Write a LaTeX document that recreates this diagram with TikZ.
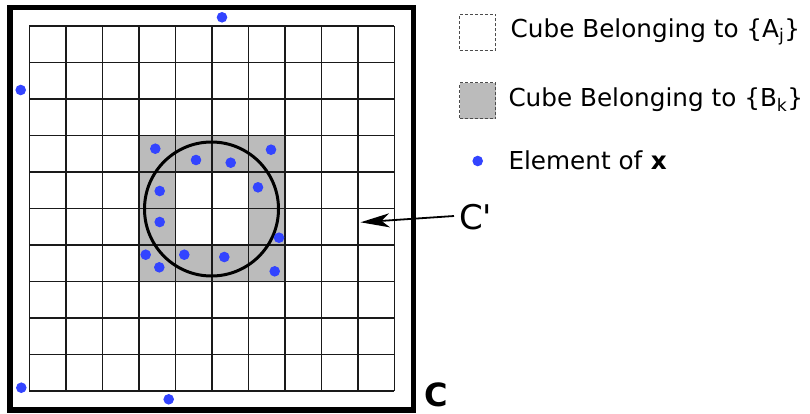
\documentclass[tikz,border=0pt]{standalone}
\usepackage{fontspec}
\setmainfont{DejaVu Sans}[Ligatures=TeXOff]
\usepackage{xcolor}
\usetikzlibrary{arrows.meta}
\definecolor{DotBlue}{HTML}{3344FF}
\definecolor{CubeGray}{HTML}{BBBBBB}
\definecolor{GridLine}{HTML}{1A1A1A}
\begin{document}
\begin{tikzpicture}[x=1pt, y=-1pt]
            % canvas in pixels, y runs down
            \useasboundingbox (0,0) rectangle (810,413);
            % cubes of {B_k}: ring of gray cells round the circle
            \fill[CubeGray, even odd rule] (138.8,136) rectangle (284.8,282) (175.3,172.5) rectangle (248.3,245.5);
            % the grid of cubes
            \foreach \i in {0,...,10} {
                \draw[GridLine, line width=1.6pt] (29.3+36.5*\i,26) -- (29.3+36.5*\i,391);
                \draw[GridLine, line width=1.6pt] (29.3,26+36.5*\i) -- (394.3,26+36.5*\i);
            }
            % the set C'
            \draw[black, line width=3pt] (211.5,209) circle (67);
            % elements of x
            \foreach \p in {(222,17.3),(20.7,90),(21.3,387.7),(168.7,399.3),(155.3,148.7),(196,160),(230.7,162.7),(271,149.7),(159.7,191),(258,187.3),(159.7,222),(279,237.7),(145.7,254.7),(184.3,254.7),(224.3,257),(159.3,267.3),(274.7,271.3)}
                \fill[DotBlue] \p circle (5.3);
            % the set C
            \draw[black, line width=5.5pt] (10,7.5) rectangle (413.5,410);
            \node[font=\bfseries\fontsize{32}{38}\selectfont, anchor=base west, inner sep=0pt] (C) at (424,406) {C};
            \node[font=\fontsize{34}{40}\selectfont, anchor=west, inner sep=0pt] (Cp) at (459,217) {C'};
            \coordinate (Ctip) at (360.5,222.3);
            \draw[-{Stealth[length=29pt, width=14pt, inset=8pt]}, black, line width=1.8pt] (Cp.west) ++(-5,-1) -- (Ctip);
            % legend
            \node[draw=black!70, densely dashed, line width=0.6pt, fill=white, minimum width=36pt, minimum height=36pt, inner sep=0pt] (LA) at (477.5,32.3) {};
            \node[draw=black!70, densely dashed, line width=0.6pt, fill=CubeGray, minimum width=36pt, minimum height=36pt, inner sep=0pt] (LB) at (477.5,100.7) {};
            \fill[DotBlue] (477.7,161) circle (5.3);
            \node[font=\fontsize{24.7}{28}\selectfont, anchor=west, inner sep=0pt] (TA) at (510.5,32) {Cube Belonging to \{A\textsubscript{j}\}};
            \node[font=\fontsize{24.7}{28}\selectfont, anchor=west, inner sep=0pt] (TB) at (508.3,100) {Cube Belonging to \{B\textsubscript{k}\}};
            \node[font=\fontsize{24.7}{28}\selectfont, anchor=west, inner sep=0pt] (TX) at (508.3,160) {Element of \textbf{x}};
        \end{tikzpicture}
\end{document}
